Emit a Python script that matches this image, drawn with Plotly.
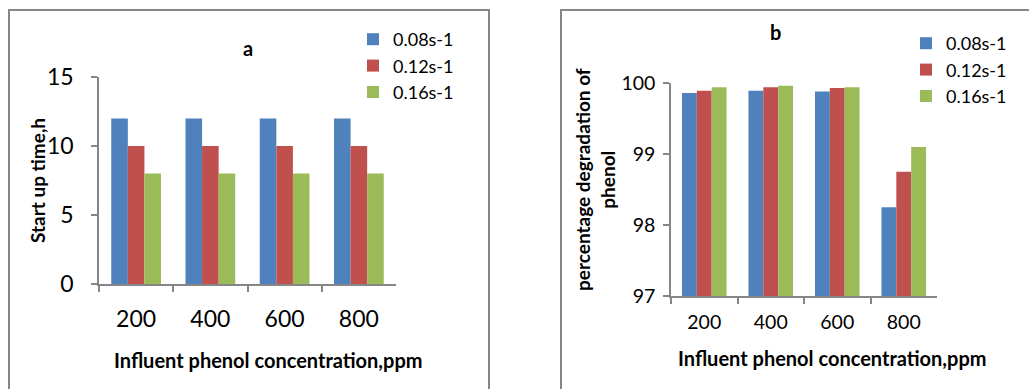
import plotly.graph_objects as go

W, H = 1029, 389

# Influent phenol concentrations (ppm) and dilution-rate series
categories = ["200", "400", "600", "800"]
series_names = ["0.08s-1", "0.12s-1", "0.16s-1"]
colors = ["#4F81BD", "#C0504D", "#9BBB59"]

# Panel a: start-up time (h)
startup_008 = [12, 12, 12, 12]
startup_012 = [10, 10, 10, 10]
startup_016 = [8, 8, 8, 8]

# Panel b: percentage degradation of phenol
degr_008 = [99.86, 99.89, 99.88, 98.25]
degr_012 = [99.89, 99.94, 99.93, 98.75]
degr_016 = [99.94, 99.96, 99.94, 99.10]

FONT = "Lato, 'Open Sans', sans-serif"
AXIS_GREY = "#868686"


def px_x(v):
    return v / W


def px_y(v):
    return (H - v) / H


fig = go.Figure()

for name, vals, col in zip(series_names, [startup_008, startup_012, startup_016], colors):
    fig.add_trace(go.Bar(x=categories, y=vals, name=name, marker_color=col,
                         marker_line_width=0, xaxis="x", yaxis="y",
                         legend="legend", legendgroup="a" + name))

for name, vals, col in zip(series_names, [degr_008, degr_012, degr_016], colors):
    fig.add_trace(go.Bar(x=categories, y=vals, name=name, marker_color=col,
                         marker_line_width=0, xaxis="x2", yaxis="y2",
                         legend="legend2", legendgroup="b" + name))

axis_common = dict(showline=True, linecolor=AXIS_GREY, linewidth=1.5,
                   ticks="outside", tickcolor=AXIS_GREY, ticklen=6, tickwidth=1.5,
                   showgrid=False, zeroline=False, automargin=False)


def bold(size):
    return dict(family=FONT, size=size, color="black", weight="bold")


def label(text, x, y, size, angle=0):
    return dict(text=text, x=px_x(x), y=px_y(y), xref="paper", yref="paper",
                xanchor="center", yanchor="middle", showarrow=False,
                textangle=angle, font=bold(size))


fig.update_layout(
    width=W, height=H,
    margin=dict(l=0, r=0, t=0, b=0),
    paper_bgcolor="white", plot_bgcolor="white",
    barmode="group", bargap=0.33, bargroupgap=0,
    font=dict(family=FONT, color="black"),
    xaxis=dict(domain=[px_x(99), px_x(396)], anchor="y", type="category",
               tickson="boundaries", tickfont=dict(size=23), ticklabelstandoff=14,
               **axis_common),
    yaxis=dict(domain=[px_y(284), px_y(77)], anchor="x", range=[0, 15], dtick=5,
               tickfont=dict(size=23), ticklabelstandoff=13,
               **axis_common),
    xaxis2=dict(domain=[px_x(671), px_x(937)], anchor="y2", type="category",
                tickson="boundaries", tickfont=dict(size=19.5), ticklabelstandoff=8,
                **axis_common),
    yaxis2=dict(domain=[px_y(296), px_y(83)], anchor="x2", range=[97, 100], dtick=1,
                tickfont=dict(size=19.5), ticklabelstandoff=4,
                **axis_common),
    legend=dict(x=px_x(353), y=px_y(21), xanchor="left", yanchor="top",
                font=dict(size=18), bgcolor="rgba(0,0,0,0)",
                traceorder="grouped", tracegroupgap=0, itemwidth=30),
    legend2=dict(x=px_x(906), y=px_y(25), xanchor="left", yanchor="top",
                 font=dict(size=18), bgcolor="rgba(0,0,0,0)",
                 traceorder="grouped", tracegroupgap=0, itemwidth=30),
    showlegend=True,
    annotations=[
        label("a", 248, 48, 20),
        label("b", 775, 32, 20),
        label("Influent phenol concentration,ppm", 268, 360, 20),
        label("Start up time,h", 37, 181, 19, -90),
        label("Influent phenol concentration,ppm", 832, 358, 20),
        label("percentage degradation of<br>phenol", 595, 180, 19, -90),
    ],
    shapes=[
        dict(type="rect", xref="paper", yref="paper",
             x0=px_x(9), x1=px_x(489), y0=-0.05, y1=px_y(10),
             line=dict(color=AXIS_GREY, width=2), layer="below"),
        dict(type="rect", xref="paper", yref="paper",
             x0=px_x(561), x1=1.05, y0=-0.05, y1=px_y(10),
             line=dict(color=AXIS_GREY, width=2), layer="below"),
    ],
)

fig.write_html("out.html")
